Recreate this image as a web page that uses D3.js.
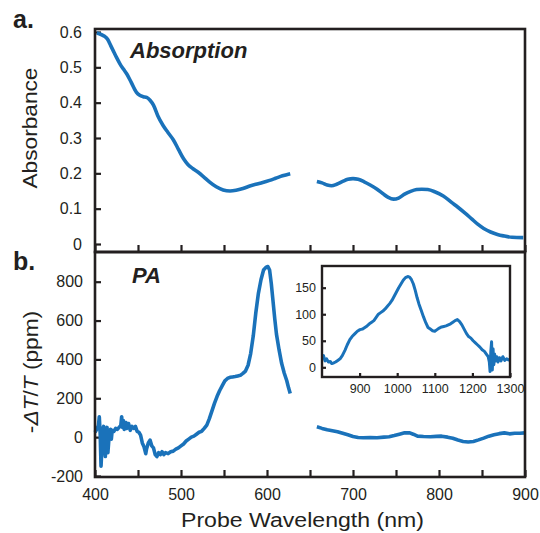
<!DOCTYPE html>
<html>
<head>
<meta charset="utf-8">
<script src="https://cdn.jsdelivr.net/npm/d3@7"></script>
<style>
  html, body { margin: 0; padding: 0; background: #fff; }
  svg { display: block; font-family: "Liberation Sans", Arial, sans-serif; }
</style>
</head>
<body>
<svg id="chart" width="540" height="533"></svg>
<script>
// ---------- DATA ----------
// Panel a: absorption (two segments, gap 627-658 nm)
const absWl1 = [402,407,411,415,418,421,425,429,433,437,442,448,452,456,460,464,468,473,479,485,491,497,503,508,514,520,526,533,541,549,557,564,572,580,587,595,603,610,618,627];
const absVal1 = [0.597,0.593,0.588,0.578,0.563,0.548,0.528,0.510,0.495,0.481,0.458,0.430,0.421,0.417,0.415,0.407,0.393,0.363,0.336,0.315,0.295,0.268,0.241,0.225,0.213,0.203,0.191,0.176,0.162,0.153,0.150,0.152,0.157,0.164,0.169,0.174,0.180,0.186,0.193,0.199];
const absWl2 = [658,664,670,675,681,688,694,700,706,713,720,728,735,741,747,753,760,767,774,780,787,795,805,815,822,830,838,845,852,860,868,875,885,898];
const absVal2 = [0.177,0.173,0.167,0.165,0.169,0.177,0.183,0.185,0.183,0.176,0.167,0.155,0.142,0.132,0.127,0.130,0.141,0.149,0.154,0.155,0.154,0.148,0.136,0.117,0.104,0.088,0.071,0.056,0.044,0.034,0.027,0.023,0.019,0.018];

// Panel b: photoinduced absorption (ppm), two segments
const paWl1 = [400,402,404,405,406,407,408,409,410,411,412,413,414,415,416,417,418,419,420,422,424,426,428,430,431,432,433,434,436,437,439,441,443,445,447,449,451,453,455,457,459,460,462,464,466,468,470,472,474,476,478,480,482,485,488,491,494,497,500,503,506,509,512,515,518,521,524,527,530,533,536,539,542,545,548,551,554,557,560,563,566,569,572,575,578,581,584,587,590,593,596,599,601,603,605,607,609,611,614,617,620,623,625,627];
const paVal1 = [25,40,60,105,20,-150,-60,40,55,-40,-100,30,50,-80,-20,10,40,-10,35,30,45,40,50,60,105,50,85,40,75,45,70,35,55,45,55,30,25,10,-30,-50,-85,-60,-30,-15,-45,-55,-90,-100,-80,-90,-75,-90,-80,-85,-75,-72,-62,-55,-45,-35,-20,-10,0,5,15,25,30,45,62,95,135,175,210,240,265,290,302,308,310,312,315,318,328,340,370,430,520,640,740,810,860,875,878,860,790,700,610,530,450,380,330,290,255,225];
const paWl2 = [658,664,670,676,682,688,694,700,706,712,720,728,736,742,748,754,760,766,770,775,782,790,797,803,810,816,822,828,834,840,846,852,858,864,870,876,882,888,894,900];
const paVal2 = [53,45,38,33,28,20,12,3,-2,-3,-2,-3,0,2,8,15,22,22,15,5,3,2,4,5,0,-6,-15,-22,-25,-22,-14,-5,5,12,18,22,17,20,20,22];

// Inset: PA in the near infrared
const insetWl = [801,804,808,812,817,822,826,830,836,842,848,854,861,867,874,880,887,894,901,908,914,920,926,932,938,944,950,956,962,968,974,980,986,992,998,1004,1010,1016,1022,1028,1033,1038,1043,1048,1053,1058,1064,1070,1076,1082,1088,1094,1100,1106,1112,1118,1124,1130,1136,1142,1148,1154,1160,1166,1172,1178,1184,1190,1196,1202,1208,1214,1220,1226,1232,1238,1242,1245,1247,1249,1251,1253,1255,1257,1259,1262,1265,1268,1272,1276,1281,1286,1291,1296,1300];
const insetVal = [20,22,12,16,10,11,7,8,10,13,16,22,32,42,52,58,63,68,71,72,75,78,82,85,88,94,100,103,106,110,115,120,126,134,142,150,157,164,169,171,170,165,157,145,131,119,107,95,84,75,72,69,68,71,74,76,77,78,80,82,85,88,90,86,80,72,64,58,55,50,46,42,38,33,30,24,20,10,-8,30,48,-5,35,5,25,12,20,10,18,12,20,13,16,14,15];

// Ticks
const xTicks = [400,450,500,550,600,650,700,750,800,850,900];
const xTickLabels = [400,500,600,700,800,900];
const absTicks = [0,0.1,0.2,0.3,0.4,0.5,0.6];
const paTicks = [-200,0,200,400,600,800];
const insetXTicks = [900,1000,1100,1200,1300];
const insetYTicks = [0,50,100,150];

// ---------- LAYOUT ----------
const INK = "#231f20";
const BLUE = "#1a72ba";
const svg = d3.select("#chart");

const left = 95, right = 525;
const topA = 29, botA = 252;
const topB = 252, botB = 477;
const inset = {l: 322, r: 510, t: 266, b: 377};

const x = d3.scaleLinear().domain([400, 900]).range([left, right]);
const yA = d3.scaleLinear().domain([0, 0.6]).range([244, 32]);
const yB = d3.scaleLinear().domain([-200, 800]).range([476, 281.7]);
const xI = d3.scaleLinear().domain([800, 1300]).range([inset.l, inset.r]);
const yI = d3.scaleLinear().domain([0, 150]).range([367.3, 287.7]);

const plain = d => String(d);

function styleAxis(g, fontSize) {
  g.select(".domain").remove();
  g.selectAll(".tick line").attr("stroke", INK).attr("stroke-width", 2.2);
  g.selectAll(".tick text").attr("fill", INK).style("font-size", fontSize + "px")
   .style("font-family", '"Liberation Sans", Arial, sans-serif');
}

// ---------- Panel a ----------
const gA = svg.append("g");
gA.append("g").attr("transform", `translate(${left},0)`)
  .call(d3.axisLeft(yA).tickValues(absTicks).tickSizeInner(-6).tickSizeOuter(0).tickPadding(13)
    .tickFormat(d => d === 0 ? "0" : d3.format(".1f")(d)))
  .call(g => styleAxis(g, 16));
gA.append("g").attr("transform", `translate(0,${botA})`)
  .call(d3.axisBottom(x).tickValues(xTicks).tickSizeInner(-7).tickSizeOuter(0).tickFormat(""))
  .call(g => styleAxis(g, 16));

const lineA = d3.line().x(d => x(d[0])).y(d => yA(d[1])).curve(d3.curveMonotoneX);
[[absWl1, absVal1], [absWl2, absVal2]].forEach(([w, v]) => {
  gA.append("path").datum(w.map((wl, i) => [wl, v[i]]))
    .attr("d", lineA).attr("fill", "none").attr("stroke", BLUE)
    .attr("stroke-width", 3.6).attr("stroke-linejoin", "round").attr("stroke-linecap", "butt");
});
gA.append("rect").attr("x", left).attr("y", topA).attr("width", right - left).attr("height", botA - topA)
  .attr("fill", "none").attr("stroke", INK).attr("stroke-width", 2.6);

// ---------- Panel b ----------
const gB = svg.append("g");
gB.append("g").attr("transform", `translate(${left},0)`)
  .call(d3.axisLeft(yB).tickValues(paTicks).tickSizeInner(-6).tickSizeOuter(0).tickPadding(12).tickFormat(plain))
  .call(g => styleAxis(g, 16));
gB.append("g").attr("transform", `translate(0,${botB})`)
  .call(d3.axisBottom(x).tickValues(xTicks).tickSizeInner(-7).tickSizeOuter(0).tickPadding(12)
    .tickFormat(d => xTickLabels.includes(d) ? String(d) : ""))
  .call(g => styleAxis(g, 16));

const lineB = d3.line().x(d => x(d[0])).y(d => yB(d[1])).curve(d3.curveLinear);
[[paWl1, paVal1], [paWl2, paVal2]].forEach(([w, v]) => {
  gB.append("path").datum(w.map((wl, i) => [wl, v[i]]))
    .attr("d", lineB).attr("fill", "none").attr("stroke", BLUE)
    .attr("stroke-width", 3.6).attr("stroke-linejoin", "round");
});
gB.append("rect").attr("x", left).attr("y", topB).attr("width", right - left).attr("height", botB - topB)
  .attr("fill", "none").attr("stroke", INK).attr("stroke-width", 2.6);

// ---------- Inset ----------
const gI = svg.append("g");
gI.append("rect").attr("x", inset.l).attr("y", inset.t).attr("width", inset.r - inset.l).attr("height", inset.b - inset.t)
  .attr("fill", "#fff");
gI.append("g").attr("transform", `translate(${inset.l},0)`)
  .call(d3.axisLeft(yI).tickValues(insetYTicks).tickSizeInner(-4).tickSizeOuter(0).tickPadding(6).tickFormat(plain))
  .call(g => styleAxis(g, 12.5));
gI.append("g").attr("transform", `translate(0,${inset.b})`)
  .call(d3.axisBottom(xI).tickValues(insetXTicks).tickSizeInner(-4).tickSizeOuter(0).tickPadding(7).tickFormat(plain))
  .call(g => styleAxis(g, 12.5));
const lineI = d3.line().x(d => xI(d[0])).y(d => yI(d[1]));
gI.append("path").datum(insetWl.map((wl, i) => [wl, insetVal[i]]))
  .attr("d", lineI).attr("fill", "none").attr("stroke", BLUE)
  .attr("stroke-width", 3).attr("stroke-linejoin", "round");
gI.append("rect").attr("x", inset.l).attr("y", inset.t).attr("width", inset.r - inset.l).attr("height", inset.b - inset.t)
  .attr("fill", "none").attr("stroke", INK).attr("stroke-width", 2.4);

// ---------- Text ----------
svg.append("text").attr("x", 13).attr("y", 28).attr("fill", INK)
  .style("font-size", "25px").style("font-weight", "bold").text("a.");
svg.append("text").attr("x", 13).attr("y", 270).attr("fill", INK)
  .style("font-size", "25px").style("font-weight", "bold").text("b.");
svg.append("text").attr("x", 130).attr("y", 58).attr("fill", INK)
  .style("font-size", "22px").style("font-weight", "bold").style("font-style", "italic").text("Absorption");
svg.append("text").attr("x", 132).attr("y", 283).attr("fill", INK)
  .style("font-size", "22px").style("font-weight", "bold").style("font-style", "italic").text("PA");

svg.append("text").attr("transform", "translate(37,128) rotate(-90) scale(1.08,1)")
  .attr("text-anchor", "middle").attr("fill", INK).style("font-size", "21px").text("Absorbance");

const yl = svg.append("text").attr("transform", "translate(38,372) rotate(-90) scale(1.08,1)")
  .attr("text-anchor", "middle").attr("fill", INK).style("font-size", "21px");
yl.append("tspan").text("-");
yl.append("tspan").style("font-style", "italic").text("ΔT");
yl.append("tspan").text("/");
yl.append("tspan").style("font-style", "italic").text("T");
yl.append("tspan").text(" (ppm)");

svg.append("text").attr("transform", "translate(302.5,527) scale(1.1,1)")
  .attr("text-anchor", "middle").attr("fill", INK).style("font-size", "21px").text("Probe Wavelength (nm)");
</script>
</body>
</html>
